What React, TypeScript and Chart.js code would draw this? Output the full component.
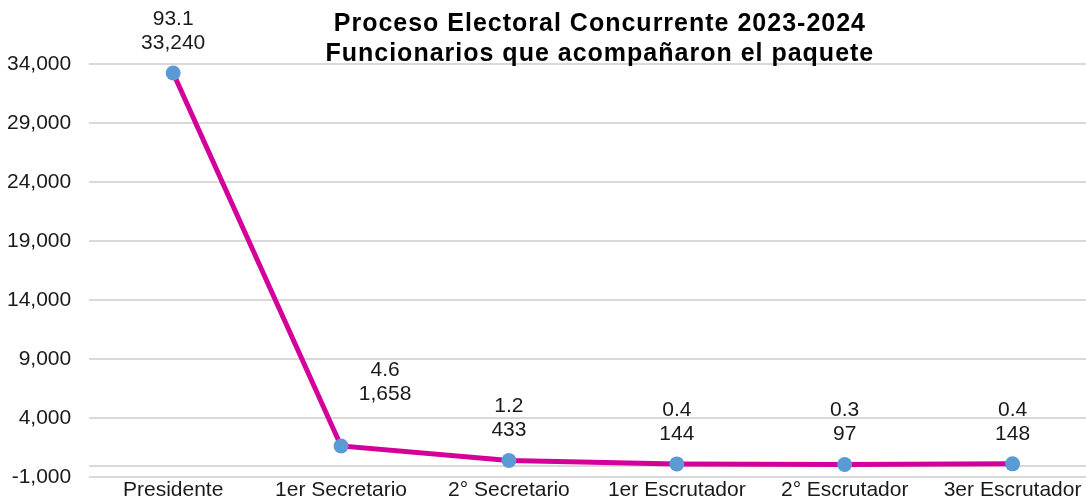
import React, { useEffect, useRef } from "react";
import { Chart, registerables } from "chart.js";

Chart.register(...registerables);

const categories = [
  "Presidente",
  "1er Secretario",
  "2° Secretario",
  "1er Escrutador",
  "2° Escrutador",
  "3er Escrutador",
];
const funcionarios = [33240, 1658, 433, 144, 97, 148];
const porcentajes = [93.1, 4.6, 1.2, 0.4, 0.3, 0.4];
const yTickValues = [-1000, 4000, 9000, 14000, 19000, 24000, 29000, 34000];
const titleLines = [
  "Proceso Electoral Concurrente 2023-2024",
  "Funcionarios que acompañaron el paquete",
];

const FONT = '"Liberation Sans", Arial, sans-serif';
const TEXT_COLOR = "#1a1a1a";
const GRID_COLOR = "#D9D9D9";

export default function App() {
  const canvasRef = useRef<HTMLCanvasElement | null>(null);

  useEffect(() => {
    if (!canvasRef.current) return;

    const zeroLinePlugin = {
      id: "zeroLine",
      beforeDatasetsDraw(chart: any) {
        const { ctx, chartArea, scales } = chart;
        const y = Math.round(scales.y.getPixelForValue(0));
        ctx.save();
        ctx.strokeStyle = GRID_COLOR;
        ctx.lineWidth = 2;
        ctx.beginPath();
        ctx.moveTo(chartArea.left, y);
        ctx.lineTo(chartArea.right, y);
        ctx.stroke();
        ctx.restore();
      },
    };

    const dataLabelPlugin = {
      id: "dataLabels",
      afterDatasetsDraw(chart: any) {
        const { ctx } = chart;
        const meta = chart.getDatasetMeta(0);
        ctx.save();
        ctx.font = `21px ${FONT}`;
        ctx.fillStyle = TEXT_COLOR;
        ctx.textAlign = "center";
        ctx.textBaseline = "middle";
        meta.data.forEach((pt: any, i: number) => {
          const dx = i === 1 ? 44 : 0;
          const dy = i === 1 ? 52 : 30;
          const x = pt.x + dx;
          const yBottom = pt.y - dy;
          ctx.fillText(porcentajes[i].toFixed(1), x, yBottom - 24);
          ctx.fillText(funcionarios[i].toLocaleString("en-US"), x, yBottom);
        });
        ctx.restore();
      },
    };

    const titlePlugin = {
      id: "twoLineTitle",
      afterDraw(chart: any) {
        const { ctx, chartArea } = chart;
        ctx.save();
        ctx.font = `bold 25px ${FONT}`;
        (ctx as any).letterSpacing = "1px";
        ctx.fillStyle = "#000000";
        ctx.textAlign = "center";
        ctx.textBaseline = "alphabetic";
        const cx = (chartArea.left + chartArea.right) / 2 + 7;
        ctx.fillText(titleLines[0], cx, chartArea.top - 33);
        ctx.fillText(titleLines[1], cx, chartArea.top - 3);
        ctx.restore();
      },
    };

    const chart = new Chart(canvasRef.current, {
      type: "line",
      data: {
        labels: categories,
        datasets: [
          {
            data: funcionarios,
            borderColor: "#D4009A",
            borderWidth: 5,
            tension: 0,
            pointRadius: 7.5,
            pointHoverRadius: 7.5,
            pointBackgroundColor: "#5B9BD5",
            pointBorderColor: "#5B9BD5",
            pointBorderWidth: 0,
            fill: false,
          },
        ],
      },
      options: {
        animation: false,
        responsive: true,
        maintainAspectRatio: false,
        layout: { padding: { top: 64, right: 6, left: 7, bottom: 0 } },
        plugins: {
          legend: { display: false },
          title: { display: false },
          tooltip: { enabled: false },
        },
        scales: {
          x: {
            offset: true,
            grid: { display: false, drawTicks: false },
            border: { display: false },
            ticks: {
              color: TEXT_COLOR,
              font: { family: FONT, size: 21, lineHeight: 1 },
              padding: 2,
              maxRotation: 0,
              autoSkip: false,
            },
          },
          y: {
            min: -1000,
            max: 34000,
            afterBuildTicks(scale: any) {
              scale.ticks = yTickValues.map((v) => ({ value: v }));
            },
            grid: { color: GRID_COLOR, lineWidth: 2, drawTicks: false },
            border: { display: false },
            ticks: {
              color: TEXT_COLOR,
              font: { family: FONT, size: 21 },
              padding: 18,
              callback: (v: any) => Number(v).toLocaleString("en-US"),
            },
          },
        },
      },
      plugins: [zeroLinePlugin, dataLabelPlugin, titlePlugin],
    });

    return () => chart.destroy();
  }, []);

  return (
    <div
      style={{
        position: "fixed",
        left: 0,
        top: 0,
        width: 1086,
        height: 497,
        overflow: "hidden",
        background: "#ffffff",
      }}
    >
      <div
        style={{
          width: 1122,
          height: 508,
          marginLeft: -18,
          position: "relative",
        }}
      >
        <canvas ref={canvasRef} />
      </div>
    </div>
  );
}
